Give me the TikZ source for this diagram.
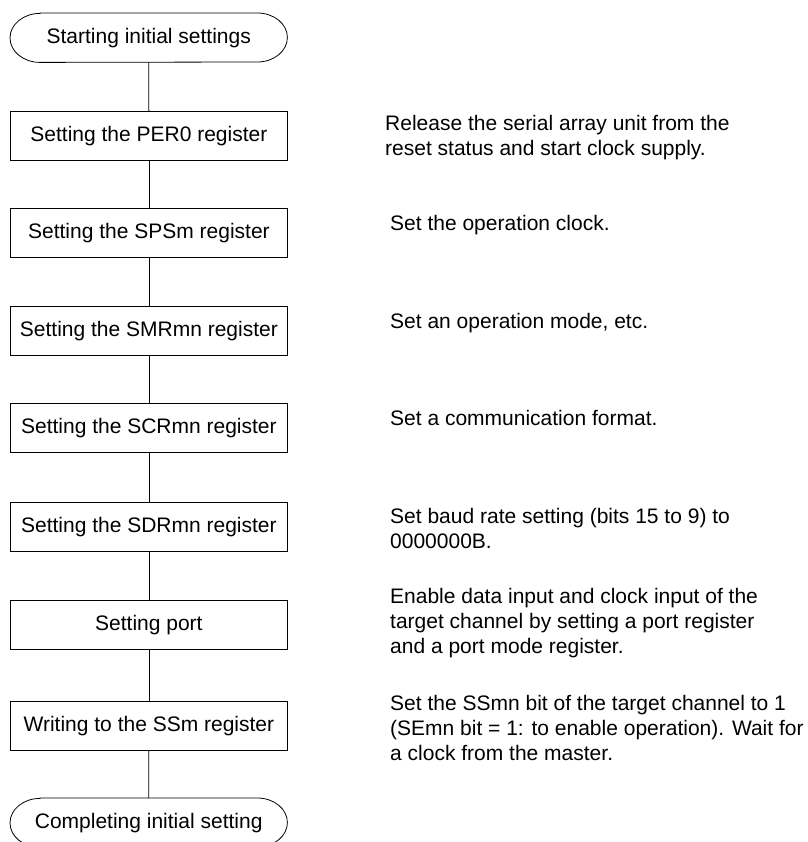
\documentclass[tikz,border=0pt]{standalone}
\usepackage{fontspec}
\setmainfont{Liberation Sans}
\begin{document}
\begin{tikzpicture}[x=1pt,y=-1pt,
  every node/.style={font=\fontsize{21}{25}\selectfont, inner sep=0pt},
  stepbox/.style={draw, line width=0.8pt, minimum width=277pt, minimum height=49pt, anchor=north west},
  termbox/.style={minimum width=277pt, minimum height=49pt, anchor=north west},
  note/.style={anchor=base west},
  conn/.style={line width=0.8pt}]
\useasboundingbox (0,0) rectangle (807,842);
\node[termbox] (start) at (10,13) {Starting initial settings};
\node[stepbox] (s1) at (10,111) {Setting the PER0 register};
\node[stepbox] (s2) at (10,208) {Setting the SPSm register};
\node[stepbox] (s3) at (10,306) {Setting the SMRmn register};
\node[stepbox] (s4) at (10,403) {Setting the SCRmn register};
\node[stepbox] (s5) at (10,502) {Setting the SDRmn register};
\node[stepbox] (s6) at (10,600) {Setting port};
\node[stepbox] (s7) at (10,701) {Writing to the SSm register};
\node[termbox] (end) at (10,798) {Completing initial setting};
\foreach \t in {start,end}
  \draw[conn] ([xshift=30pt]\t.north west) -- ([xshift=-30pt]\t.north east)
    arc[start angle=90,end angle=-90,x radius=30pt,y radius=24.5pt]
    -- ([xshift=30pt]\t.south west)
    arc[start angle=270,end angle=90,x radius=30pt,y radius=24.5pt] -- cycle;
\draw[conn] (start) -- (s1);
\draw[conn] (s1) -- (s2);
\draw[conn] (s2) -- (s3);
\draw[conn] (s3) -- (s4);
\draw[conn] (s4) -- (s5);
\draw[conn] (s5) -- (s6);
\draw[conn] (s6) -- (s7);
\draw[conn] (s7) -- (end);
\node[note] (n1) at (385,131) {\vtop{\hbox{Release the serial array unit from the}\hbox{reset status and start clock supply.}}};
\node[note] (n2) at (390,230) {Set the operation clock.};
\node[note] (n3) at (390,328) {Set an operation mode, etc.};
\node[note] (n4) at (390,425) {Set a communication format.};
\node[note] (n5) at (390,523) {\vtop{\hbox{Set baud rate setting (bits 15 to 9) to}\hbox{0000000B.}}};
\node[note] (n6) at (390,603) {\vtop{\hbox{Enable data input and clock input of the}\hbox{target channel by setting a port register}\hbox{and a port mode register.}}};
\node[note] (n7) at (390,710) {\vtop{\hbox{Set the SSmn bit of the target channel to 1}\hbox{(SEmn bit = 1: to enable operation). Wait for}\hbox{a clock from the master.}}};
\end{tikzpicture}
\end{document}
